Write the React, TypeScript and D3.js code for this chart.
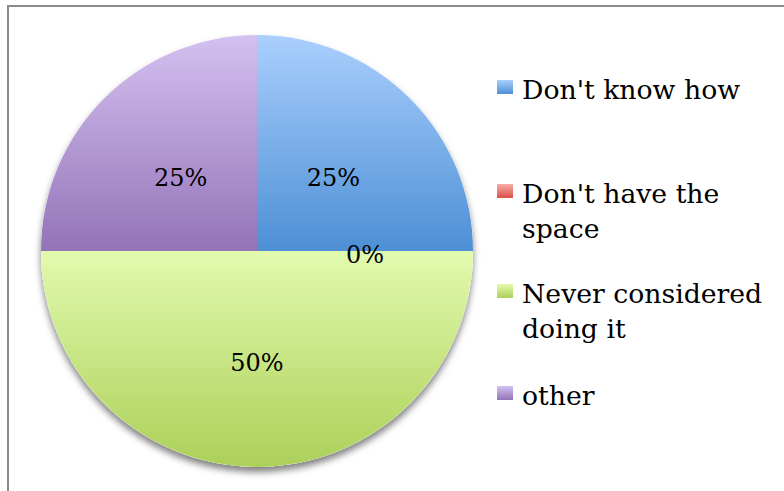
import React, { useEffect, useRef } from 'react'
import * as d3 from 'd3'

// Chart data
const categories = ["Don't know how", "Don't have the space", 'Never considered doing it', 'other']
const values = [25, 0, 50, 25]
const legendLines = [["Don't know how"], ["Don't have the", 'space'], ['Never considered', 'doing it'], ['other']]
// gradient stops: top colour, bottom colour
const colorsTop = ['#aacffd', '#f8aca7', '#e2faae', '#d4c1f0']
const colorsBottom = ['#4d8fd5', '#dd4f49', '#acd059', '#9473b8']

const width = 784
const height = 491

const App: React.FC = () => {
  const svgRef = useRef<SVGSVGElement>(null)

  useEffect(() => {
    if (!svgRef.current) return
    const svg = d3.select(svgRef.current)
    svg.selectAll('*').remove()

    const font = "'DejaVu Serif', serif"
    const cx = 257
    const cy = 251
    const radius = 216

    const defs = svg.append('defs')
    categories.forEach((c, i) => {
      const g = defs
        .append('linearGradient')
        .attr('id', 'grad' + i)
        .attr('x1', 0)
        .attr('y1', 0)
        .attr('x2', 0)
        .attr('y2', 1)
      g.append('stop').attr('offset', '0%').attr('stop-color', colorsTop[i])
      g.append('stop').attr('offset', '100%').attr('stop-color', colorsBottom[i])
    })

    const shadow = defs
      .append('filter')
      .attr('id', 'shadow')
      .attr('x', '-20%')
      .attr('y', '-20%')
      .attr('width', '140%')
      .attr('height', '140%')
    shadow
      .append('feDropShadow')
      .attr('dx', 0)
      .attr('dy', 5)
      .attr('stdDeviation', 3.5)
      .attr('flood-color', '#000')
      .attr('flood-opacity', 0.5)

    // outer frame
    svg
      .append('rect')
      .attr('x', 8)
      .attr('y', 6)
      .attr('width', width + 20)
      .attr('height', height + 20)
      .attr('fill', '#fff')
      .attr('stroke', '#8c8c8c')
      .attr('stroke-width', 2)

    const pie = d3
      .pie<number>()
      .sort(null)
      .value((d) => d)
    const arcs = pie(values)
    const arc = d3.arc<d3.PieArcDatum<number>>().innerRadius(0).outerRadius(radius)

    const g = svg.append('g').attr('transform', `translate(${cx},${cy})`)

    // shadow under the whole pie
    g.append('circle').attr('r', radius).attr('fill', '#fff').attr('filter', 'url(#shadow)')

    g.selectAll('.slice')
      .data(arcs)
      .enter()
      .append('path')
      .attr('class', 'slice')
      .attr('d', arc)
      .attr('fill', (d, i) => `url(#grad${i})`)

    const labelArc = d3.arc<d3.PieArcDatum<number>>().innerRadius(radius * 0.5).outerRadius(radius * 0.5)
    g.selectAll('.label')
      .data(arcs)
      .enter()
      .append('text')
      .attr('class', 'label')
      .attr('x', (d) => labelArc.centroid(d)[0])
      .attr('y', (d) => labelArc.centroid(d)[1])
      .attr('dy', '0.48em')
      .attr('text-anchor', 'middle')
      .style('font-family', font)
      .style('font-size', '24px')
      .attr('fill', '#000')
      .text((d) => `${d.data}%`)

    // legend
    const legendY = d3.scaleOrdinal<string, number>().domain(categories).range([99, 203, 303, 405])
    const legend = svg.append('g')
    categories.forEach((c, i) => {
      const y = legendY(c)
      legend
        .append('rect')
        .attr('x', 497)
        .attr('y', y - 19)
        .attr('width', 16)
        .attr('height', 14)
        .attr('fill', `url(#grad${i})`)
      legendLines[i].forEach((line, j) => {
        legend
          .append('text')
          .attr('x', 522)
          .attr('y', y + j * 35)
          .style('font-family', font)
          .style('font-size', '26.7px')
          .attr('fill', '#000')
          .text(line)
      })
    })
  }, [])

  return (
    <div style={{ position: 'fixed', left: 0, top: 0, width, height, overflow: 'hidden', background: '#fff' }}>
      <svg ref={svgRef} width={width} height={height}></svg>
    </div>
  )
}

export default App
